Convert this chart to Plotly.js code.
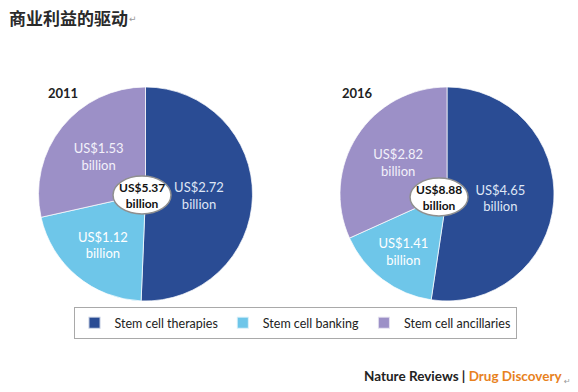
<!DOCTYPE html>
<html><head><meta charset="utf-8">
<script src="https://cdn.plot.ly/plotly-3.0.1.min.js"></script>
<style>html,body{margin:0;padding:0;background:#fff}#chart{width:578px;height:392px}</style>
</head><body><div id="chart"></div>
<script>
const categories = ["Stem cell therapies", "Stem cell banking", "Stem cell ancillaries"];
const years = ["2011", "2016"];
const values2011 = [2.72, 1.12, 1.53];
const values2016 = [4.65, 1.41, 2.82];
const colors = ["#2a4c94", "#6ec6e9", "#9c90c7"];
const textColors = ["#dfe6f5", "#ffffff", "#f3f1fa"];

const W = 578, H = 392;
const px = x => x / W, py = y => 1 - y / H;
const font = "Lato, 'Open Sans', sans-serif";

function pieTrace(vals, x0, x1) {
  return {
    type: "pie", labels: categories, values: vals, sort: false,
    direction: "clockwise", rotation: 0,
    domain: {x: [px(x0), px(x1)], y: [py(301), py(87)]},
    marker: {colors: colors, line: {color: "rgba(255,255,255,0.7)", width: 1}},
    texttemplate: "US$%{value:.2f}<br>billion",
    textposition: "inside", insidetextorientation: "horizontal",
    insidetextfont: {family: font, size: 13, color: textColors},
    hoverinfo: "none", showlegend: true
  };
}
const sum = a => a.reduce((s, v) => s + v, 0);
const totals = [sum(values2011), sum(values2016)];

const ellipses = [[142, 195, 58, 38], [439, 197, 58, 38]];
const shapes = ellipses.map(([cx, cy, w, h]) => ({
  type: "circle", xref: "paper", yref: "paper", layer: "above",
  x0: px(cx - w / 2), x1: px(cx + w / 2), y0: py(cy + h / 2), y1: py(cy - h / 2),
  fillcolor: "#ffffff", line: {color: "#8f8f8f", width: 1.5}
}));

const annotations = [
  {text: "<b>商业利益的驱动</b>", x: px(7), y: py(17), xanchor: "left", yanchor: "middle",
   font: {family: "'Noto Sans CJK SC', sans-serif", size: 17, color: "#2a2a2a"}},
  {text: "↵", x: px(127), y: py(19), xanchor: "left", yanchor: "middle",
   font: {family: "DejaVu Sans", size: 9, color: "#999"}},
  {text: "<b>" + years[0] + "</b>", x: px(46), y: py(93), xanchor: "left", yanchor: "middle",
   font: {family: font, size: 13, color: "#222"}},
  {text: "<b>" + years[1] + "</b>", x: px(340), y: py(93), xanchor: "left", yanchor: "middle",
   font: {family: font, size: 13, color: "#222"}},
  {text: "<b>US$" + totals[0].toFixed(2) + "<br>billion</b>", x: px(142), y: py(195),
   xanchor: "center", yanchor: "middle", font: {family: font, size: 12, color: "#111"}},
  {text: "<b>US$" + totals[1].toFixed(2) + "<br>billion</b>", x: px(439), y: py(197),
   xanchor: "center", yanchor: "middle", font: {family: font, size: 12, color: "#111"}},
  {text: "<b>Nature Reviews | <span style='color:#e8821e'>Drug Discovery</span></b>",
   x: px(362), y: py(376), xanchor: "left", yanchor: "middle",
   font: {family: font, size: 13.5, color: "#222"}},
  {text: "↵", x: px(562), y: py(381), xanchor: "left", yanchor: "middle",
   font: {family: "DejaVu Sans", size: 8, color: "#999"}}
].map(a => Object.assign({xref: "paper", yref: "paper", showarrow: false}, a));

const data = [pieTrace(values2011, 33, 258), pieTrace(values2016, 334, 560)];
const layout = {
  width: W, height: H, margin: {l: 0, r: 0, t: 0, b: 0},
  paper_bgcolor: "#fff", plot_bgcolor: "#fff",
  showlegend: true,
  legend: {orientation: "h", x: px(295), xanchor: "center", y: py(307), yanchor: "top",
    bordercolor: "#a9a9a9", borderwidth: 1, bgcolor: "#fff",
    font: {family: font, size: 12.5, color: "#222"}, itemsizing: "constant"},
  shapes: shapes, annotations: annotations
};
Plotly.newPlot("chart", data, layout, {displayModeBar: false, staticPlot: true});
</script></body></html>
